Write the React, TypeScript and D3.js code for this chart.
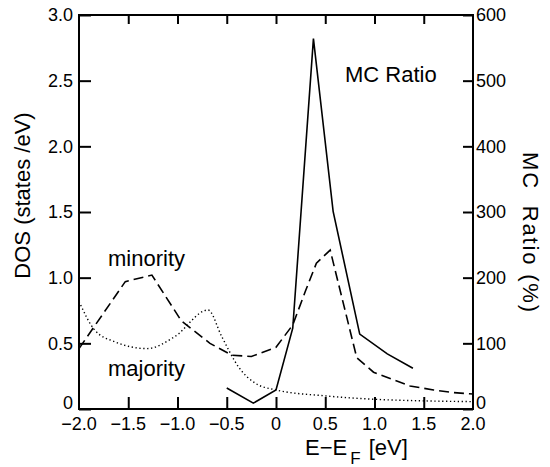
import React, { useEffect, useRef } from "react";
import {
  axisBottom,
  axisLeft,
  axisRight,
  axisTop,
  curveMonotoneX,
  curveLinear,
  line,
  scaleLinear,
  select,
} from "d3";

// MC ratio (%) vs energy, right axis
const mcEnergy = [-0.5, -0.23, 0.0, 0.17, 0.38, 0.58, 0.85, 1.13, 1.39];
const mcRatio = [32, 9, 29, 123, 564, 301, 114, 84, 62];

// minority DOS (dashed), left axis
const minorityEnergy = [
  -2.0, -1.53, -1.26, -0.96, -0.67, -0.45, -0.25, 0.0, 0.17, 0.3, 0.41, 0.55,
  0.82, 0.99, 1.2, 1.36, 1.6, 1.8, 2.0,
];
const minorityDos = [
  0.46, 0.97, 1.02, 0.67, 0.5, 0.41, 0.4, 0.47, 0.64, 0.9, 1.11, 1.21, 0.39,
  0.28, 0.22, 0.175, 0.145, 0.125, 0.114,
];

// majority DOS (dotted), left axis
const majorityEnergy = [
  -2.0, -1.84, -1.63, -1.31, -1.03, -0.69, -0.55, -0.38, -0.21, 0.0, 0.5, 1.0,
  1.5, 2.0,
];
const majorityDos = [
  0.82, 0.6, 0.51, 0.46, 0.55, 0.754, 0.55, 0.32, 0.196, 0.145, 0.1, 0.074,
  0.062, 0.056,
];

const xTicks = [-2, -1.5, -1, -0.5, 0, 0.5, 1, 1.5, 2];
const dosTicks = [0, 0.5, 1, 1.5, 2, 2.5, 3];
const mcTicks = [0, 100, 200, 300, 400, 500, 600];

const W = 550;
const H = 467;
const FONT = "'Liberation Sans', Arial, Helvetica, sans-serif";

const fmtX = (d: number) =>
  d === 0 ? "0" : (d < 0 ? "\u2212" : "") + Math.abs(d).toFixed(1);
const fmtDos = (d: number) => (d === 0 ? "0" : d.toFixed(1));

const App = () => {
  const svgRef = useRef<SVGSVGElement>(null);

  useEffect(() => {
    const svg = select(svgRef.current);
    const left = 79;
    const right = 473;
    const top = 15;
    const bottom = 409;

    const x = scaleLinear().domain([-2, 2]).range([left, right]);
    const yDos = scaleLinear().domain([0, 3]).range([bottom, top]);
    const yMc = scaleLinear().domain([0, 600]).range([bottom, top]);

    const styleAxis = (g: any) => {
      g.select(".domain").remove();
      g.selectAll(".tick line").attr("stroke", "#000").attr("stroke-width", 2);
      g.selectAll(".tick text")
        .attr("fill", "#000")
        .style("font-family", FONT)
        .style("font-size", "18px");
    };

    svg
      .select(".x-axis")
      .attr("transform", `translate(0,${bottom})`)
      .call(
        axisBottom(x)
          .tickValues(xTicks.slice(1, -1))
          .tickSize(-12)
          .tickFormat(() => "") as any
      )
      .call(styleAxis);

    // bottom labels including the edge ones
    svg
      .select(".x-labels")
      .selectAll("text")
      .data(xTicks)
      .join("text")
      .attr("x", (d) => x(d))
      .attr("y", bottom + 21)
      .attr("text-anchor", "middle")
      .style("font-family", FONT)
      .style("font-size", "18px")
      .text((d) => fmtX(d));

    svg
      .select(".x-axis-top")
      .attr("transform", `translate(0,${top})`)
      .call(
        axisTop(x)
          .tickValues(xTicks.slice(1, -1))
          .tickSize(-9)
          .tickFormat(() => "") as any
      )
      .call(styleAxis);

    svg
      .select(".y-axis")
      .attr("transform", `translate(${left},0)`)
      .call(
        axisLeft(yDos)
          .tickValues(dosTicks)
          .tickSize(-12)
          .tickPadding(6)
          .tickFormat((d: any) => fmtDos(d)) as any
      )
      .call(styleAxis);
    // the zero labels sit a little above the corners
    svg
      .select(".y-axis")
      .selectAll(".tick text")
      .filter((d: any) => d === 0)
      .attr("y", -6);

    svg
      .select(".y-axis-right")
      .attr("transform", `translate(${right},0)`)
      .call(
        axisRight(yMc)
          .tickValues(mcTicks)
          .tickSize(-10)
          .tickPadding(3)
          .tickFormat((d: any) => String(d)) as any
      )
      .call(styleAxis);
    svg
      .select(".y-axis-right")
      .selectAll(".tick text")
      .filter((d: any) => d === 0)
      .attr("y", -6);

    svg
      .select(".frame")
      .attr("x", left)
      .attr("y", top)
      .attr("width", right - left)
      .attr("height", bottom - top);

    const dosLine = (curve: any) =>
      line<[number, number]>()
        .x((d) => x(d[0]))
        .y((d) => yDos(d[1]))
        .curve(curve);

    const mcLine = line<[number, number]>()
      .x((d) => x(d[0]))
      .y((d) => yMc(d[1]));

    svg
      .select(".minority")
      .attr(
        "d",
        dosLine(curveLinear)(minorityEnergy.map((e, i) => [e, minorityDos[i]]))
      );
    svg
      .select(".majority")
      .attr(
        "d",
        dosLine(curveMonotoneX)(
          majorityEnergy.map((e, i) => [e, majorityDos[i]])
        )
      );
    svg
      .select(".mc")
      .attr("d", mcLine(mcEnergy.map((e, i) => [e, mcRatio[i]])));
  }, []);

  return (
    <svg
      ref={svgRef}
      width={W}
      height={H}
      style={{ position: "absolute", left: 0, top: 0, background: "#fff" }}
      fontFamily={FONT}
    >
      <path className="majority" fill="none" stroke="#000" strokeWidth={1.4} strokeDasharray="1.3,2.6" />
      <path className="minority" fill="none" stroke="#000" strokeWidth={1.6} strokeDasharray="10,5" />
      <path className="mc" fill="none" stroke="#000" strokeWidth={1.6} />
      <g className="x-axis" />
      <g className="x-axis-top" />
      <g className="x-labels" />
      <g className="y-axis" />
      <g className="y-axis-right" />
      <rect className="frame" fill="none" stroke="#000" strokeWidth={2} />

      <text x={345} y={82} fontSize={22}>MC Ratio</text>
      <text x={108} y={266} fontSize={22}>minority</text>
      <text x={108} y={376} fontSize={22}>majority</text>

      <text x={305} y={455} fontSize={22}>
        E{"\u2212"}E
        <tspan fontSize={17} dx={3} dy={9}>F</tspan>
        <tspan dx={8} dy={-9}>[eV]</tspan>
      </text>

      <text
        transform="translate(29.5,195.5) rotate(-90)"
        textAnchor="middle"
        fontSize={22}
      >
        DOS (states /eV)
      </text>

      <text
        transform="translate(523,232) rotate(90)"
        textAnchor="middle"
        fontSize={22}
        textLength={160}
        lengthAdjust="spacing"
        style={{ whiteSpace: "pre" }}
      >
        {"MC  Ratio (%)"}
      </text>
    </svg>
  );
};

export default App;
